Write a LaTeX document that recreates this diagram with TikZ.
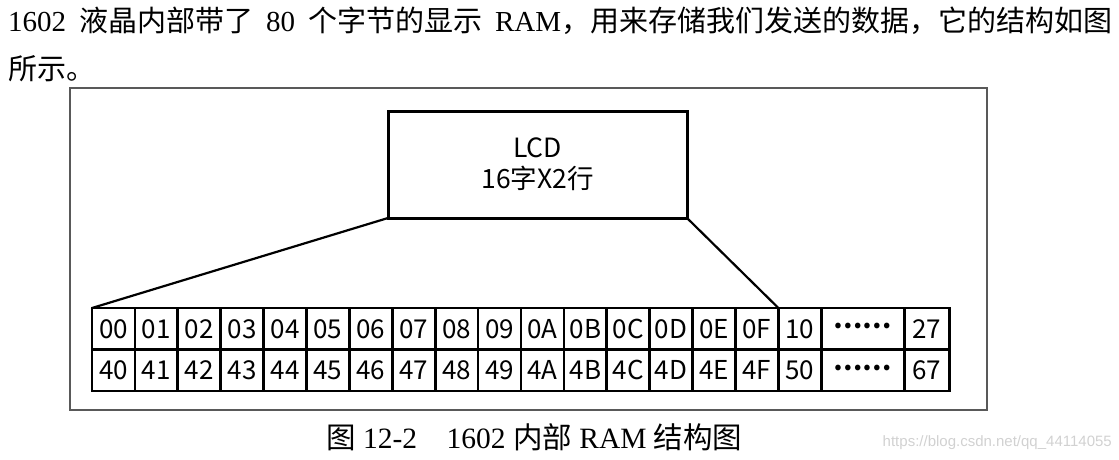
\documentclass[tikz,border=0pt]{standalone}
\usepackage{fontspec}
\setmainfont{Liberation Serif}
\newfontfamily\cjk{Noto Sans CJK SC}
\newfontfamily\wmfont{Liberation Sans}
\tikzset{
  ramcell/.style={draw,line width=2.7pt,minimum width=42.9pt,minimum height=41.5pt,
    inner sep=0pt,outer sep=0pt,anchor=north west,font=\cjk\fontsize{26}{26}\selectfont},
  lcdbox/.style={draw,line width=3pt,minimum width=299pt,minimum height=107pt,
    outer sep=0pt,align=center,font=\cjk\fontsize{26.5}{31}\selectfont},
  fan/.style={line width=2.2pt},
}
\newcommand{\ramdots}{{\bfseries\raisebox{.2em}{……}}}
\begin{document}
\begin{tikzpicture}[x=1pt,y=-1pt,line cap=round]
  \useasboundingbox (0,0) rectangle (1119,459);
  \node[anchor=base west,inner sep=0pt,font=\fontsize{29}{29}\selectfont] (para1) at (8,31)
    {\makebox[1104pt][s]{1602 {\cjk 液晶内部带了} 80 {\cjk 个字节的显示} RAM{\cjk ，用来存储我们发送的数据，它的结构如图}}};
  \node[anchor=base west,inner sep=0pt,font=\cjk\fontsize{29}{29}\selectfont] (para2) at (8,79) {所示。};
  \draw[line width=1.4pt,black!65] (70,88) rectangle (987,410);
  \node[lcdbox] (lcd) at (537.5,164.5) {LCD\\16字X2行};
  \foreach \up/\dn [count=\i from 0] in {00/40,01/41,02/42,03/43,04/44,05/45,06/46,07/47,
      08/48,09/49,0A/4A,0B/4B,0C/4C,0D/4D,0E/4E,0F/4F,10/50} {
    \node[ramcell] (u\i) at (92+42.9*\i,308) {\up};
    \node[ramcell] (d\i) at (92+42.9*\i,349.5) {\dn};
  }
  \node[ramcell,minimum width=83pt] (udots) at (u16.north east) {\ramdots};
  \node[ramcell,minimum width=83pt] (ddots) at (d16.north east) {\ramdots};
  \node[ramcell,minimum width=45pt] (uend) at (udots.north east) {27};
  \node[ramcell,minimum width=45pt] (dend) at (ddots.north east) {67};
  \draw[fan] (lcd.south west) -- (u0.north west);
  \draw[fan] (lcd.south east) -- (u16.north west);
  \node[anchor=base west,inner sep=0pt,font=\fontsize{29.5}{30}\selectfont] (caption) at (326,448)
    {{\cjk 图} 12-2\quad 1602 {\cjk 内部} RAM {\cjk 结构图}};
  \node[anchor=base east,inner sep=0pt,font=\wmfont\fontsize{15}{15}\selectfont,text=black!18] (mark) at (1112,446)
    {https://blog.csdn.net/qq\_44114055};
\end{tikzpicture}
\end{document}
